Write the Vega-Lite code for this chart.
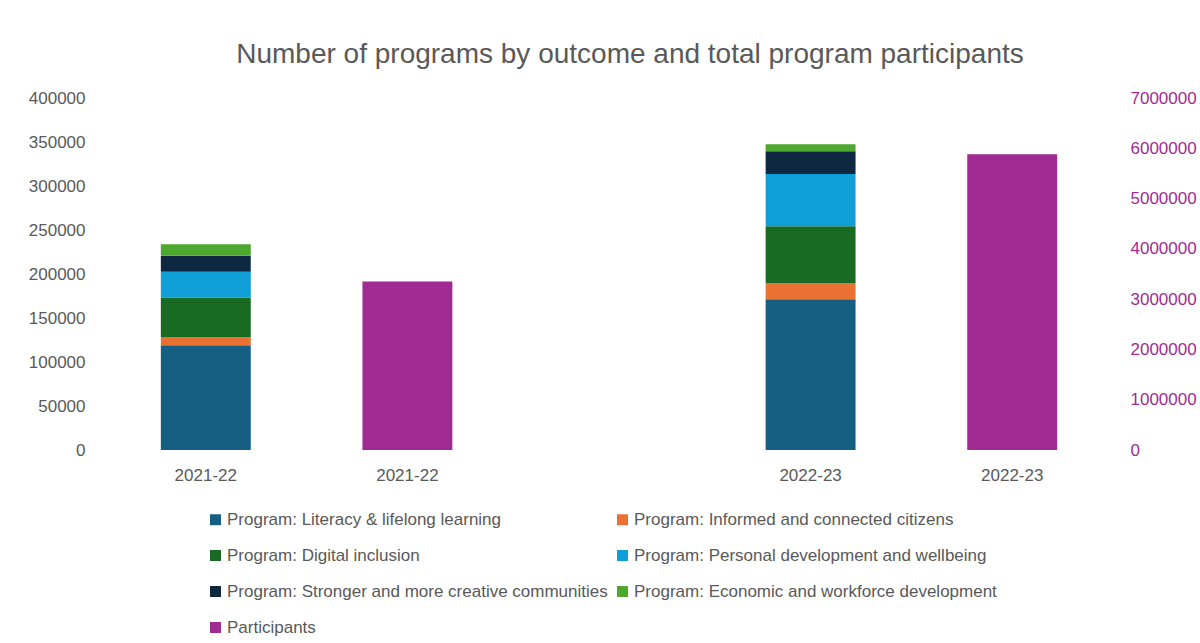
{
  "$schema": "https://vega.github.io/schema/vega-lite/v6.json",
  "width": 1008,
  "height": 352,
  "autosize": {"type": "none"},
  "padding": {"left": 105, "top": 98, "right": 87, "bottom": 193},
  "background": "white",
  "title": {
    "text": "Number of programs by outcome and total program participants",
    "fontSize": 28,
    "fontWeight": "normal",
    "color": "#595959",
    "font": "Liberation Sans",
    "anchor": "middle",
    "dx": 21,
    "offset": 20
  },
  "data": {
    "values": [
      {"slot": "a", "series": "Program: Literacy & lifelong learning", "rank": 1, "value": 119000},
      {"slot": "a", "series": "Program: Informed and connected citizens", "rank": 2, "value": 9400},
      {"slot": "a", "series": "Program: Digital inclusion", "rank": 3, "value": 44700},
      {"slot": "a", "series": "Program: Personal development and wellbeing", "rank": 4, "value": 29500},
      {"slot": "a", "series": "Program: Stronger and more creative communities", "rank": 5, "value": 18200},
      {"slot": "a", "series": "Program: Economic and workforce development", "rank": 6, "value": 13000},
      {"slot": "b", "series": "Participants", "rank": 7, "value": 3350000},
      {"slot": "d", "series": "Program: Literacy & lifelong learning", "rank": 1, "value": 171300},
      {"slot": "d", "series": "Program: Informed and connected citizens", "rank": 2, "value": 18500},
      {"slot": "d", "series": "Program: Digital inclusion", "rank": 3, "value": 64400},
      {"slot": "d", "series": "Program: Personal development and wellbeing", "rank": 4, "value": 59400},
      {"slot": "d", "series": "Program: Stronger and more creative communities", "rank": 5, "value": 25800},
      {"slot": "d", "series": "Program: Economic and workforce development", "rank": 6, "value": 8000},
      {"slot": "e", "series": "Participants", "rank": 7, "value": 5880000}
    ]
  },
  "encoding": {
    "x": {
      "field": "slot",
      "type": "nominal",
      "scale": {"domain": ["a", "b", "c", "d", "e"], "paddingInner": 0.554, "paddingOuter": 0.277},
      "axis": {
        "title": null,
        "domain": false,
        "ticks": false,
        "labelAngle": 0,
        "labelFontSize": 17,
        "labelColor": "#595959",
        "labelFont": "Liberation Sans",
        "labelPadding": 17,
        "labelExpr": "datum.value == 'a' || datum.value == 'b' ? '2021-22' : (datum.value == 'c' ? '' : '2022-23')"
      }
    },
    "color": {
      "field": "series",
      "type": "nominal",
      "scale": {
        "domain": [
          "Program: Literacy & lifelong learning",
          "Program: Digital inclusion",
          "Program: Stronger and more creative communities",
          "Participants",
          "Program: Informed and connected citizens",
          "Program: Personal development and wellbeing",
          "Program: Economic and workforce development"
        ],
        "range": ["#156082", "#196B24", "#0E2841", "#A02B93", "#E97132", "#0F9ED5", "#4EA72E"]
      },
      "legend": {
        "title": null,
        "orient": "none",
        "legendX": 102,
        "legendY": 413,
        "columns": 2,
        "columnPadding": 6,
        "rowPadding": 18,
        "symbolType": "square",
        "symbolSize": 120,
        "symbolStrokeWidth": 0,
        "symbolOffset": 0,
        "labelFontSize": 17,
        "labelColor": "#595959",
        "labelFont": "Liberation Sans",
        "labelLimit": 600,
        "labelOffset": 3
      }
    }
  },
  "layer": [
    {
      "transform": [{"filter": "datum.series != 'Participants'"}],
      "mark": {"type": "bar"},
      "encoding": {
        "y": {
          "field": "value",
          "type": "quantitative",
          "stack": "zero",
          "scale": {"domain": [0, 400000], "nice": false},
          "axis": {
            "title": null,
            "orient": "left",
            "values": [0, 50000, 100000, 150000, 200000, 250000, 300000, 350000, 400000],
            "format": "d",
            "grid": false,
            "domain": false,
            "ticks": false,
            "labelFontSize": 17,
            "labelColor": "#595959",
            "labelFont": "Liberation Sans",
            "labelPadding": 20
          }
        },
        "order": {"field": "rank", "type": "quantitative"}
      }
    },
    {
      "transform": [{"filter": "datum.series == 'Participants'"}],
      "mark": {"type": "bar"},
      "encoding": {
        "y": {
          "field": "value",
          "type": "quantitative",
          "scale": {"domain": [0, 7000000], "nice": false},
          "axis": {
            "title": null,
            "orient": "right",
            "values": [0, 1000000, 2000000, 3000000, 4000000, 5000000, 6000000, 7000000],
            "format": "d",
            "grid": false,
            "domain": false,
            "ticks": false,
            "labelFontSize": 17,
            "labelColor": "#A02B93",
            "labelFont": "Liberation Sans",
            "labelPadding": 17
          }
        }
      }
    }
  ],
  "resolve": {"scale": {"y": "independent"}},
  "config": {"view": {"stroke": null}}
}
